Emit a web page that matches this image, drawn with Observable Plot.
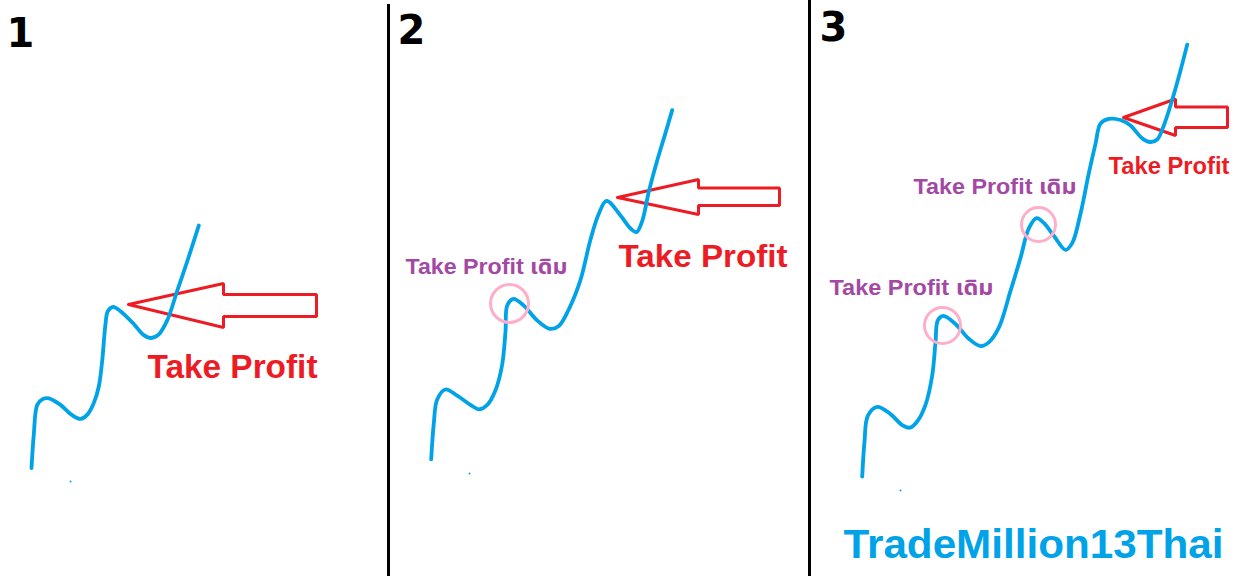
<!DOCTYPE html>
<html><head><meta charset="utf-8">
<script src="https://cdn.jsdelivr.net/npm/d3@7"></script>
<script src="https://cdn.jsdelivr.net/npm/@observablehq/plot@0.6"></script>
<style>html,body{margin:0;padding:0;background:#fff;overflow:hidden}svg{display:block}</style>
</head><body><div id="chart"></div>
<script>
// Price path of each panel (x, y in picture units, y grows downward)
const path1 = [[31,467.6],[33.3,433.8],[36.7,404.4],[41.7,398.9],[48.3,397.8],[60,404.4],[71.7,414.7],[80,418.4],[87.3,413.6],[93.3,402.6],[98.3,386],[101.7,360.3],[105,323.5],[107.3,310.7],[112.7,306.3],[120,310.7],[133.3,323.5],[143.3,334.6],[150.7,337.5],[158.3,333.8],[166.7,319.9],[176.7,290.4],[186.7,261],[198.3,225]];
const path2 = [[430.7,458.8],[433.3,422.8],[436.7,398.9],[445,389],[456.7,395.2],[470,404.4],[478.3,408.8],[486.7,404.4],[495,389.7],[501.7,364],[505,330.9],[506.7,305.1],[512.7,298.5],[523.3,305.1],[536.7,319.9],[549.3,328.3],[558.3,325.4],[568.3,308.8],[580,279.4],[590,239],[598.3,213.2],[606,200.4],[620,215],[630,228],[636,231.6],[641.7,220.6],[648.3,191.2],[656.7,160],[665,132.4],[671.7,109.6]];
const path3 = [[861.7,476.1],[864,441.2],[867.3,415.4],[876.7,406.3],[890,413.6],[901.7,424.6],[909.3,427.2],[916.7,421],[925,404.4],[931.7,375],[935,341.9],[937.3,319.9],[942.7,315.4],[955,323.5],[968.3,338.2],[980,345.6],[988.3,341.9],[998.3,327.2],[1010,290.4],[1020,257.4],[1028.3,227.9],[1036,217.6],[1043.3,222.4],[1053.3,235.3],[1065,249.3],[1071.7,242.6],[1080,213.2],[1088.3,172.8],[1095,143.4],[1100,123.2],[1108.3,118.4],[1120,119.5],[1130,125],[1141.7,137.9],[1150,141.5],[1156.7,139],[1163.3,125],[1171.7,99.3],[1180,69.9],[1186.7,44.1]];
const specks = [[70,481],[469,473],[900,490]];

// Take-profit arrows (outline vertices)
const arrow1 = [[128,304],[223,283],[223,294],[316,294],[316,316],[223,316],[223,327],[128,304]];
const arrow2 = [[617,197],[698,179],[698,187.5],[779,187.5],[779,205],[698,205],[698,214],[617,197]];
const arrow3 = [[1123,117],[1175,98.5],[1175,106.6],[1227,106.6],[1227,127],[1175,127],[1175,135],[1123,117]];

// Old take-profit circles: centre x, centre y, radius
const oldTP = [[509,303,19],[942,325,18],[1038,224,17]];

// Panel separators: x, top
const separators = [[388,4],[809,0]];

// Texts
const panelNumbers = ["1","2","3"];
const panelNumberPos = [[6,46],[397,43],[819,40]];
const tpTexts = ["Take Profit","Take Profit","Take Profit"];
const tpPos = [[147,377],[618,266],[1108,173]];
const oldTexts = ["Take Profit เดิม","Take Profit เดิม","Take Profit เดิม"];
const oldPos = [[405,273],[913,193],[829,294]];
const brand = ["TradeMillion13Thai"];
const brandPos = [[843,557]];

// layout (sizes/widths)
const tpSizes = [33,31,23];
const tpWidths = [170,169,121];
const oldWidths = [162,163,164];
const brandWidth = [380];

const pathRows = [path1,path2,path3].flatMap((p,i)=>p.map(([x,y])=>({panel:i+1,x,y})));
const arrowRows = [arrow1,arrow2,arrow3].flatMap((p,i)=>p.map(([x,y])=>({arrow:i+1,x,y})));
const circleRows = oldTP.map(([x,y,r])=>({x,y,r}));
const sepRows = separators.map(([x,top])=>({x,top}));
const speckRows = specks.map(([x,y])=>({x,y}));
const numRows = panelNumbers.map((t,i)=>({t,x:panelNumberPos[i][0],y:panelNumberPos[i][1]}));
const tpRows = tpTexts.map((t,i)=>({t,x:tpPos[i][0],y:tpPos[i][1],s:tpSizes[i]}));
const oldRows = oldTexts.map((t,i)=>({t,x:oldPos[i][0],y:oldPos[i][1]}));
const brandRows = brand.map((t,i)=>({t,x:brandPos[i][0],y:brandPos[i][1]}));

const font = "'Liberation Sans', Arial, 'Noto Sans Thai', 'DejaVu Sans', sans-serif";
const digitFont = "'DejaVu Sans', Verdana, sans-serif";

const chart = Plot.plot({
  width: 1238, height: 576, margin: 0,
  x: {domain: [0,1238], axis: null},
  y: {domain: [576,0], axis: null},
  r: {type: "identity"},
  marks: [
    Plot.ruleX(sepRows, {x:"x", y1:"top", y2:()=>576, stroke:"#000", strokeWidth:3}),
    Plot.line(arrowRows, {x:"x", y:"y", z:"arrow", stroke:"#ed1c24", strokeWidth:3, fill:"none", strokeLinejoin:"miter", curve:"linear"}),
    Plot.line(pathRows, {x:"x", y:"y", z:"panel", stroke:"#00a2e8", strokeWidth:3.8, curve:"catmull-rom"}),
    Plot.dot(circleRows, {x:"x", y:"y", r:"r", stroke:"#ffaec9", strokeWidth:3, fill:"none"}),
    Plot.dot(speckRows, {x:"x", y:"y", r:1, fill:"#00a2e8", stroke:null}),
    Plot.text(numRows, {x:"x", y:"y", text:"t", textAnchor:"start", lineAnchor:"bottom", fontSize:40, fontWeight:"bold", fill:"#000", fontFamily:digitFont}),
    Plot.text(tpRows, {x:"x", y:"y", text:"t", textAnchor:"start", lineAnchor:"bottom", fontSize:"s", fontWeight:"bold", fill:"#ed1c24", fontFamily:font}),
    Plot.text(oldRows, {x:"x", y:"y", text:"t", textAnchor:"start", lineAnchor:"bottom", fontSize:22, fontWeight:"bold", fill:"#a349a4", fontFamily:font}),
    Plot.text(brandRows, {x:"x", y:"y", text:"t", textAnchor:"start", lineAnchor:"bottom", fontSize:40, fontWeight:"bold", fill:"#00a2e8", fontFamily:font})
  ]
});
document.getElementById("chart").appendChild(chart);

const textGroups = chart.querySelectorAll('g[aria-label="text"]');
function fit(group, widths){
  if (!group) return;
  group.querySelectorAll("text").forEach((el,i)=>{
    el.setAttribute("textLength", widths[i]);
    el.setAttribute("lengthAdjust", "spacingAndGlyphs");
  });
}
fit(textGroups[1], tpWidths);
fit(textGroups[2], oldWidths);
fit(textGroups[3], brandWidth);
</script>
</body></html>
